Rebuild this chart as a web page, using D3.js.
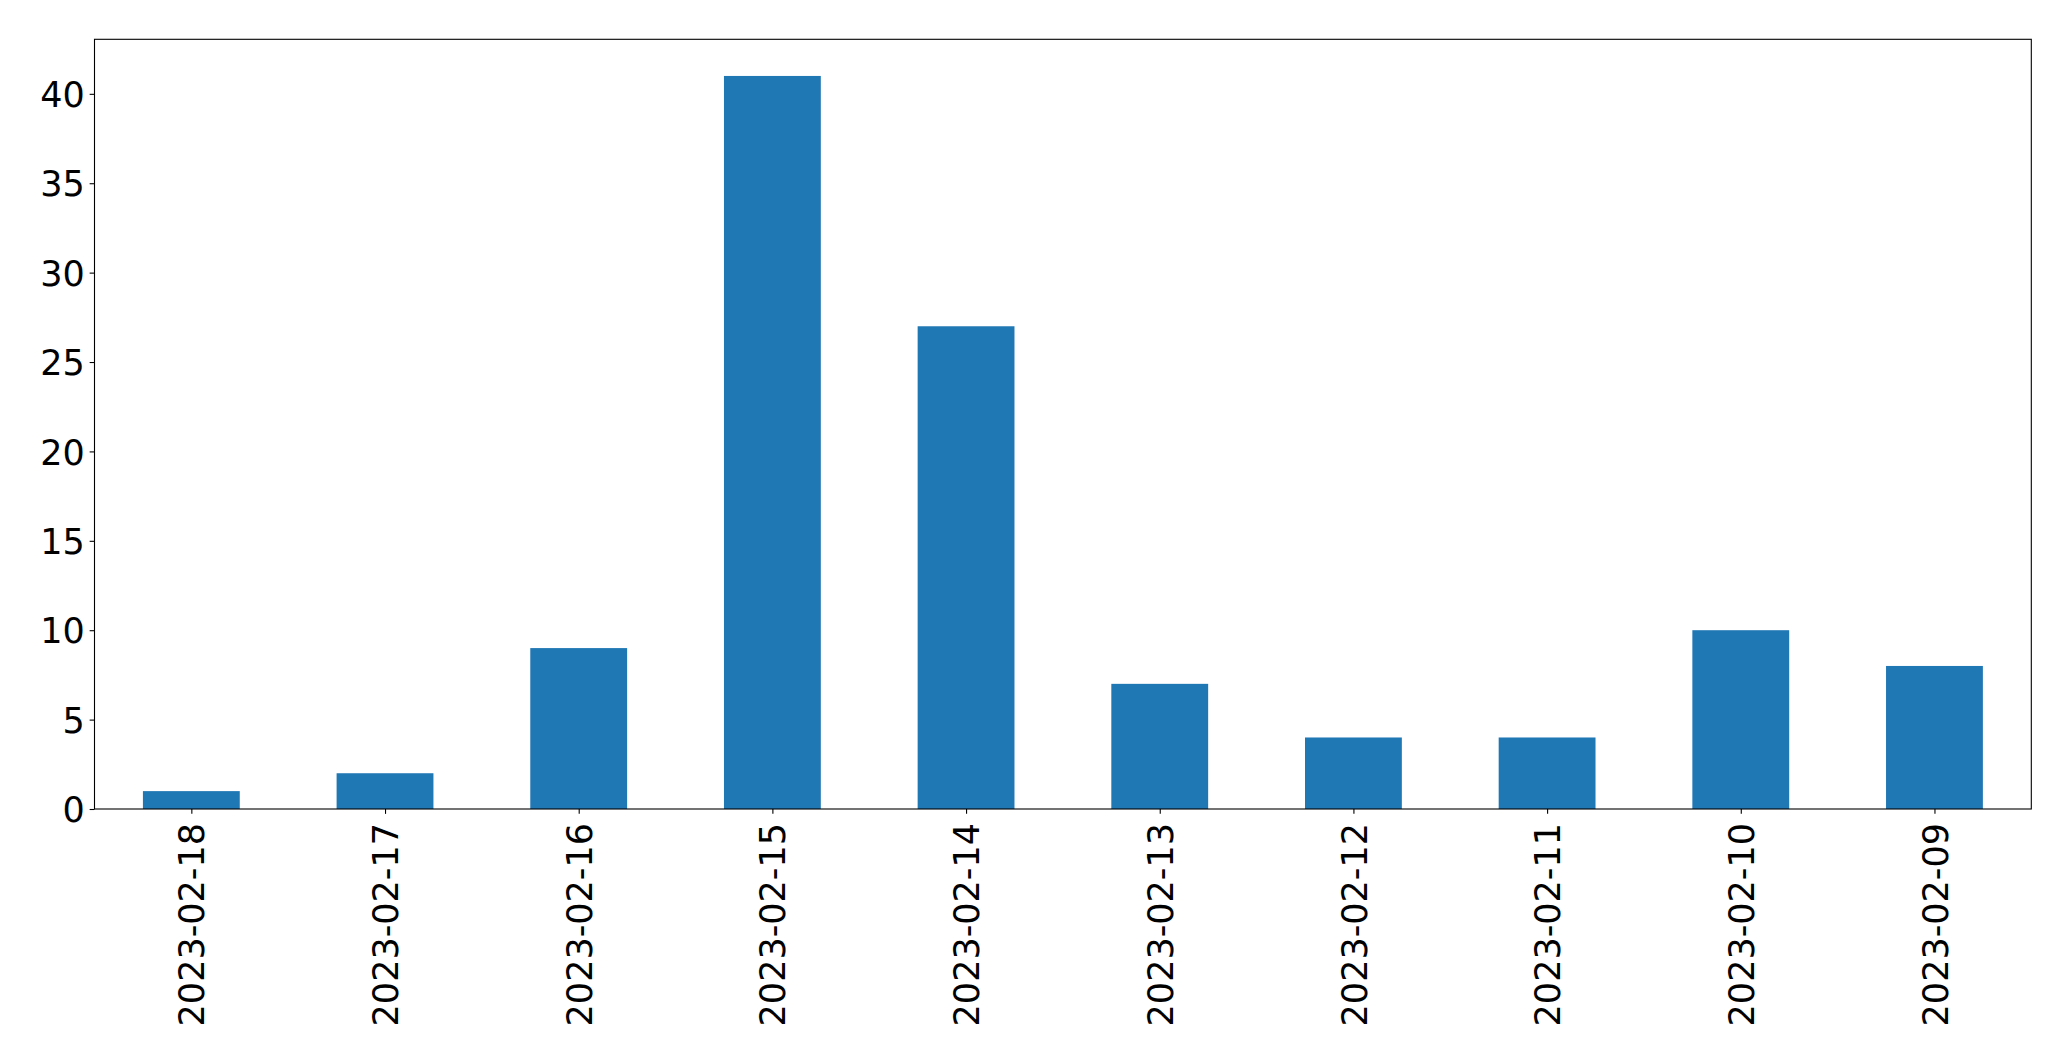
<!DOCTYPE html>
<html>
<head>
<meta charset="utf-8">
<script src="https://cdn.jsdelivr.net/npm/d3@7"></script>
<style>
  html, body { margin: 0; padding: 0; background: #fff; }
  svg { display: block; }
</style>
</head>
<body>
<script>
const categories = ["2023-02-18","2023-02-17","2023-02-16","2023-02-15","2023-02-14","2023-02-13","2023-02-12","2023-02-11","2023-02-10","2023-02-09"];
const values = [1, 2, 9, 41, 27, 7, 4, 4, 10, 8];
const yTicks = [0, 5, 10, 15, 20, 25, 30, 35, 40];

const W = 2071, H = 1061;
const margin = {left: 94.5, right: W - 2031.3, top: 39.3, bottom: H - 809};
const svg = d3.select("body").append("svg").attr("width", W).attr("height", H);

const x = d3.scaleLinear().domain([-0.5, categories.length - 0.5]).range([margin.left, W - margin.right]);
const y = d3.scaleLinear().domain([0, d3.max(values) * 1.05]).range([H - margin.bottom, margin.top]);
const bw = x(0.25) - x(-0.25);

const font = "DejaVu Sans";
const fs = 35;

svg.append("g").selectAll("rect").data(values).join("rect")
  .attr("x", (d, i) => x(i) - bw / 2)
  .attr("width", bw)
  .attr("y", d => y(d))
  .attr("height", d => y(0) - y(d))
  .attr("fill", "#1f77b4");

// frame
svg.append("rect")
  .attr("x", margin.left).attr("y", margin.top)
  .attr("width", x.range()[1] - x.range()[0])
  .attr("height", y.range()[0] - y.range()[1])
  .attr("fill", "none").attr("stroke", "#000").attr("stroke-width", 1.1);

// y axis
const yAxis = d3.axisLeft(y).tickValues(yTicks).tickSize(4.86).tickPadding(4.86).tickFormat(d3.format("d"));
const gy = svg.append("g").attr("transform", `translate(${margin.left},0)`).call(yAxis);
gy.select(".domain").remove();
gy.selectAll("line").attr("stroke", "#000").attr("stroke-width", 1.1);
gy.selectAll("text").attr("font-family", font).attr("font-size", fs).attr("fill", "#000").attr("dy", "0.36em");

// x axis
const xAxis = d3.axisBottom(x).tickValues(d3.range(categories.length)).tickSize(4.86).tickPadding(0).tickFormat(i => categories[i]);
const gx = svg.append("g").attr("transform", `translate(0,${H - margin.bottom})`).call(xAxis);
gx.select(".domain").remove();
gx.selectAll("line").attr("stroke", "#000").attr("stroke-width", 1.1);
gx.selectAll("text")
  .attr("font-family", font).attr("font-size", fs).attr("fill", "#000")
  .attr("transform", "translate(0,14) rotate(-90)")
  .attr("x", 0).attr("y", 0).attr("dy", "0.36em")
  .attr("text-anchor", "end");
</script>
</body>
</html>
